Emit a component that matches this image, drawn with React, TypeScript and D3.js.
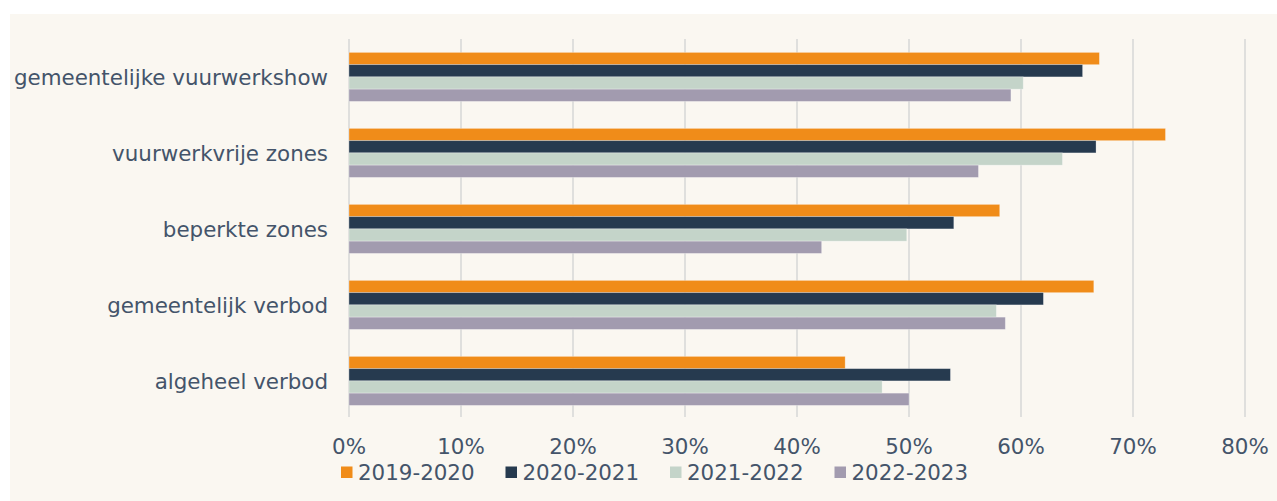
import React from 'react';
import * as d3 from 'd3';

const categories = [
  'gemeentelijke vuurwerkshow',
  'vuurwerkvrije zones',
  'beperkte zones',
  'gemeentelijk verbod',
  'algeheel verbod',
];
const seriesNames = ['2019-2020', '2020-2021', '2021-2022', '2022-2023'];
const seriesColors = ['#F08C19', '#263A4F', '#C4D4C9', '#A29BAF'];

const s2019 = [67.0, 72.9, 58.1, 66.5, 44.3];
const s2020 = [65.5, 66.7, 54.0, 62.0, 53.7];
const s2021 = [60.2, 63.7, 49.8, 57.8, 47.6];
const s2022 = [59.1, 56.2, 42.2, 58.6, 50.0];
const seriesValues = [s2019, s2020, s2021, s2022];

const xTicks = [0, 10, 20, 30, 40, 50, 60, 70, 80];

const W = 1277;
const H = 501;
const textColor = '#44546A';
const font = '"DejaVu Sans", Verdana, sans-serif';
const fontSize = 21.4;

const App: React.FC = () => {
  const x = d3.scaleLinear().domain([0, 80]).range([349, 1245]);
  const y = d3.scaleBand<string>().domain(categories).range([39, 419]);
  const inner = d3
    .scaleBand<string>()
    .domain(seriesNames)
    .range([13.4, 62.4]);

  return (
    <div style={{ position: 'absolute', left: 0, top: 0 }}>
      <svg width={W} height={H} style={{ display: 'block', fontFamily: font }}>
        <rect x={0} y={0} width={W} height={H} fill="#ffffff" />
        <rect x={10} y={14} width={W - 10} height={H - 14} fill="#FAF7F1" />

        {/* gridlines */}
        {xTicks.map((t) => (
          <line
            key={t}
            x1={x(t)}
            x2={x(t)}
            y1={39}
            y2={417}
            stroke="#D9D9D9"
            strokeWidth={1.6}
          />
        ))}

        {/* bars */}
        {categories.map((c, ci) => (
          <g key={c} transform={`translate(0,${y(c)})`}>
            {seriesNames.map((s, si) => (
              <rect
                key={s}
                x={x(0)}
                y={inner(s)}
                width={x(seriesValues[si][ci]) - x(0)}
                height={inner.bandwidth()}
                fill={seriesColors[si]}
                stroke="#ffffff"
                strokeOpacity={0.35}
                strokeWidth={0.8}
              />
            ))}
          </g>
        ))}

        {/* category labels */}
        {categories.map((c) => (
          <text
            key={c}
            x={328}
            y={(y(c) || 0) + y.bandwidth() / 2}
            textAnchor="end"
            dominantBaseline="central"
            fontSize={fontSize}
            fill={textColor}
          >
            {c}
          </text>
        ))}

        {/* x tick labels */}
        {xTicks.map((t) => (
          <text
            key={t}
            x={x(t)}
            y={446}
            textAnchor="middle"
            dominantBaseline="central"
            fontSize={fontSize}
            fill={textColor}
          >
            {`${t}%`}
          </text>
        ))}

        {/* legend */}
        {seriesNames.map((s, i) => {
          const lx = 341 + i * 164.5;
          return (
            <g key={s}>
              <rect x={lx} y={466.5} width={11.5} height={11.5} fill={seriesColors[i]} />
              <text
                x={lx + 17}
                y={472.5}
                dominantBaseline="central"
                fontSize={fontSize}
                fill={textColor}
              >
                {s}
              </text>
            </g>
          );
        })}
      </svg>
    </div>
  );
};

export default App;
